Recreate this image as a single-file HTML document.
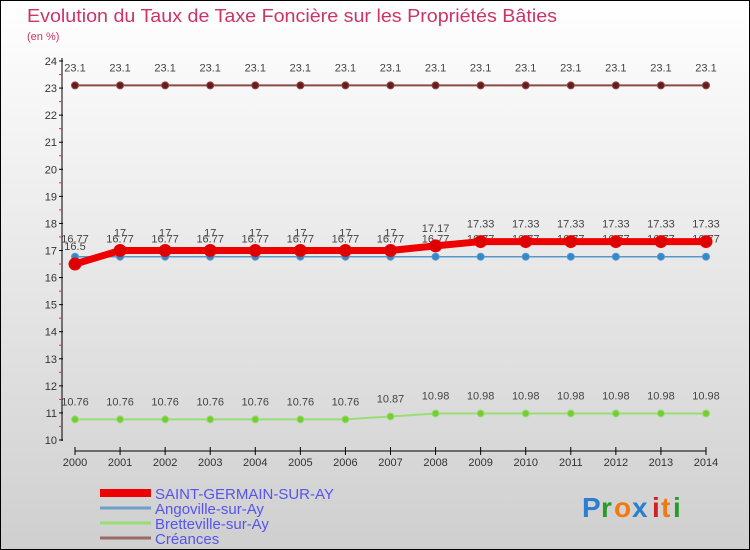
<!DOCTYPE html>
<html><head><meta charset="utf-8"><style>
body{margin:0}
#c{width:750px;height:550px;position:relative;overflow:hidden;font-family:"Liberation Sans",sans-serif}
</style></head><body>
<div id="c">
<svg id="s" width="750" height="550" xmlns="http://www.w3.org/2000/svg">
<defs><linearGradient id="bg" x1="0" y1="0" x2="0" y2="1"><stop offset="0" stop-color="#ffffff"/><stop offset="1" stop-color="#cfcfcf"/></linearGradient></defs>
<rect x="0.5" y="0.5" width="749" height="549" fill="url(#bg)" stroke="#000"/>
<text x="27" y="22" font-size="18" fill="#cc3366" textLength="530" lengthAdjust="spacingAndGlyphs">Evolution du Taux de Taxe Foncière sur les Propriétés Bâties</text>
<text x="27" y="40" font-size="11" fill="#cc3366">(en %)</text>
<g id="axes"></g><g id="series"></g><g id="legend"></g>
<g font-size="28" font-weight="bold">
<text x="582" y="517" fill="#2a7fd0">P</text><text x="601" y="517" fill="#2a9a2a">r</text><text x="614" y="517" fill="#f07a10">o</text><text x="632" y="517" fill="#2a7fd0">x</text><text x="652" y="517" fill="#d02020">i</text><text x="661" y="517" fill="#f07a10">t</text><text x="673" y="517" fill="#2a9a2a">i</text>
</g>
</svg></div>
<script>
const years=[2000,2001,2002,2003,2004,2005,2006,2007,2008,2009,2010,2011,2012,2013,2014];
const yTicks=[10,11,12,13,14,15,16,17,18,19,20,21,22,23,24];
const saintGermain=[16.5,17,17,17,17,17,17,17,17.17,17.33,17.33,17.33,17.33,17.33,17.33];
const saintGermainLabels=["16.5","17","17","17","17","17","17","17","17.17","17.33","17.33","17.33","17.33","17.33","17.33"];
const angoville=[16.77,16.77,16.77,16.77,16.77,16.77,16.77,16.77,16.77,16.77,16.77,16.77,16.77,16.77,16.77];
const bretteville=[10.76,10.76,10.76,10.76,10.76,10.76,10.76,10.87,10.98,10.98,10.98,10.98,10.98,10.98,10.98];
const creances=[23.1,23.1,23.1,23.1,23.1,23.1,23.1,23.1,23.1,23.1,23.1,23.1,23.1,23.1,23.1];
const seriesNames=["SAINT-GERMAIN-SUR-AY","Angoville-sur-Ay","Bretteville-sur-Ay","Créances"];
const NS="http://www.w3.org/2000/svg";
const X=i=>75+i*(706-75)/(years.length-1);
const Y=v=>440-(v-10)*(440-61)/14;
function mk(tag,attrs,parent,text){const e=document.createElementNS(NS,tag);for(const k in attrs)e.setAttribute(k,attrs[k]);if(text!==undefined)e.textContent=text;parent.appendChild(e);return e;}
const ax=document.getElementById('axes');
let yl=mk('line',{x1:62,y1:58,x2:62,y2:441,stroke:'#000'},ax);


let xl=mk('line',{x1:75,y1:451,x2:706,y2:451,stroke:'#000'},ax);


yTicks.forEach(v=>{
 mk('line',{x1:59,y1:Y(v),x2:63,y2:Y(v),stroke:'#000'},ax);
 if(v<24) mk('line',{x1:59,y1:Y(v+0.5),x2:62,y2:Y(v+0.5),stroke:'#e03030'},ax);
 const t=mk('text',{x:57,y:Y(v)+4,'text-anchor':'end','font-size':11,fill:'#333'},ax,String(v));
 
 
});
years.forEach((yr,i)=>{
 mk('line',{x1:X(i),y1:447,x2:X(i),y2:455,stroke:'#000'},ax);
 const t=mk('text',{x:X(i),y:466,'text-anchor':'middle','font-size':11,fill:'#333'},ax,String(yr));
 
 
});
const sg=document.getElementById('series');
function drawSeries(vals,labels,color,lineW,r,dot,name){
 const g=mk('g',{},sg);
 
 
 mk('polyline',{points:vals.map((v,i)=>X(i)+','+Y(v)).join(' '),fill:'none',stroke:color,'stroke-width':lineW},g);
 vals.forEach((v,i)=>{
  const c=mk('circle',{cx:X(i),cy:Y(v),r:r,fill:dot,stroke:color},g);
  
  
  mk('text',{x:X(i),y:Y(v)-14,'text-anchor':'middle','font-size':11,fill:'#444'},g,labels[i]);
 });
}
drawSeries(creances,creances.map(String),'#8b4a4a',2,3.5,'#6a1a1a','series-creances');
drawSeries(bretteville,bretteville.map(String),'#99dd77',2,3.5,'#77cc33','series-bretteville');
drawSeries(angoville,angoville.map(String),'#5599cc',1.5,3.5,'#3388cc','series-angoville');
drawSeries(saintGermain,saintGermainLabels,'#ee0000',7,6,'#dd0000','series-saint-germain');
const lg=document.getElementById('legend');
const lc=['#ee0000','#6fa0c8','#99dd77','#9a6a6a'];const lw=[8,3,3,3];
seriesNames.forEach((n,i)=>{
 const y=493+i*15;
 const g=mk('g',{},lg);
 
 
 mk('line',{x1:100,y1:y,x2:151,y2:y,stroke:lc[i],'stroke-width':lw[i]},g);
 mk('text',{x:155,y:y+6,'font-size':15,fill:'#5555ee'},g,n);
});
</script>
</body></html>
